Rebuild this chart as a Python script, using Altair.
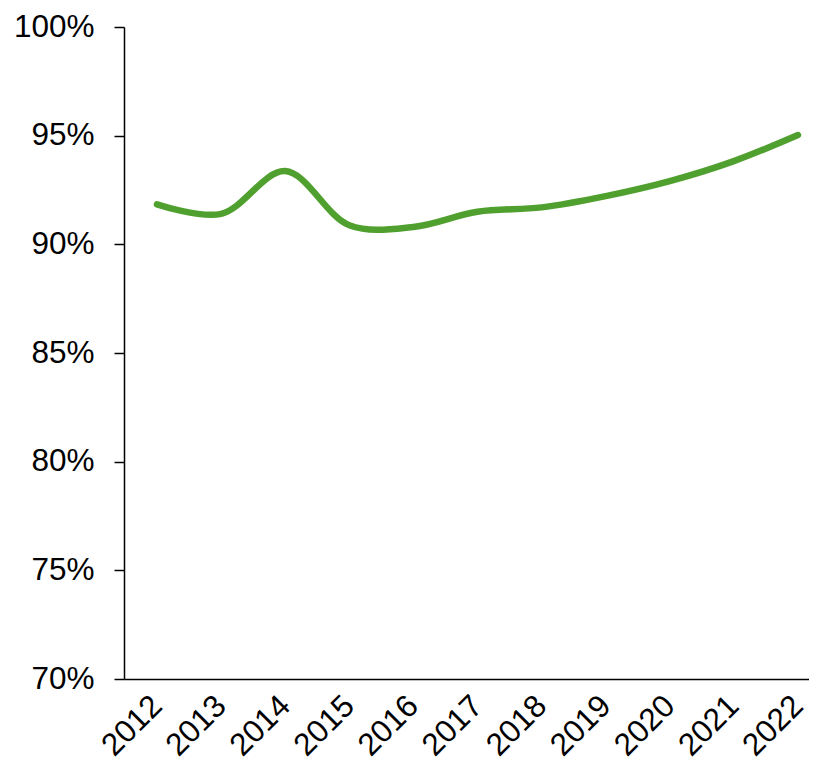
import altair as alt
import pandas as pd

years = [2012, 2013, 2014, 2015, 2016, 2017, 2018, 2019, 2020, 2021, 2022]
rates = [0.9184, 0.9140, 0.9337, 0.9088, 0.9080, 0.9150, 0.9170, 0.9222, 0.9291, 0.9383, 0.9503]
y_ticks = [0.70, 0.75, 0.80, 0.85, 0.90, 0.95, 1.00]

df = pd.DataFrame({"year": years, "rate": rates})

FONT = "Liberation Sans"

chart = alt.Chart(df).mark_line(
    color="#50A02F", strokeWidth=6.5, strokeCap="round", interpolate="catmull-rom"
).encode(
    x=alt.X("year:Q",
            scale=alt.Scale(domain=[2011.4852, 2022.172], nice=False, zero=False),
            axis=alt.Axis(values=years, format="d", labelAngle=-45, labelAlign="right",
                          labelBaseline="middle", labelPadding=22, ticks=False,
                          labelFontSize=31.5, labelFont=FONT, labelColor="black",
                          domainColor="black", domainWidth=1.5, grid=False,
                          title=None, labelOverlap=False, labelFlush=False)),
    y=alt.Y("rate:Q",
            scale=alt.Scale(domain=[0.70, 1.00], nice=False, zero=False),
            axis=alt.Axis(values=y_ticks, format=".0%", tickSize=10, tickColor="black",
                          tickWidth=1.5, labelPadding=20, labelFontSize=31.5, labelFont=FONT,
                          labelColor="black", domainColor="black", domainWidth=1.5,
                          grid=False, title=None, labelOverlap=False, labelFlush=False)),
).properties(
    width=685, height=652,
    autosize=alt.AutoSizeParams(type="none"),
    padding={"left": 116, "top": 19, "right": 0, "bottom": 80},
).configure_view(stroke=None)

chart.save("out.html", embed_options={"renderer": "svg", "actions": False})
